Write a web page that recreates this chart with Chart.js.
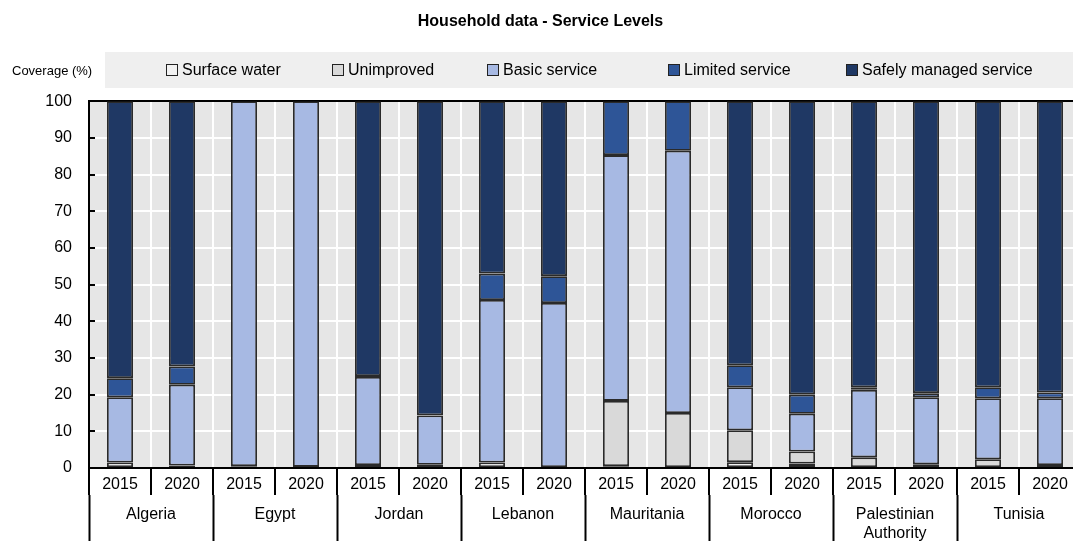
<!DOCTYPE html>
<html>
<head>
<meta charset="UTF-8" />
<script src="https://cdn.jsdelivr.net/npm/chart.js"></script>
<style>
  body {
    margin: 0;
    padding: 0;
    width: 1073px;
    height: 541px;
    overflow: hidden;
    background: #fff;
    font-family: 'Liberation Sans', Arial, sans-serif;
  }
  .wrap {
    position: relative;
    width: 1090px;
    height: 541px;
  }
  .ylabel {
    position: absolute;
    left: 12px;
    top: 63px;
    font-size: 13px;
    color: #000;
    white-space: nowrap;
  }
  .legend {
    position: absolute;
    left: 105px;
    top: 52px;
    width: 1000px;
    height: 36px;
    background: #efefef;
    font-size: 16px;
    color: #000;
  }
  .legend .item {
    position: absolute;
    top: 0;
    height: 36px;
    display: flex;
    align-items: center;
    white-space: nowrap;
  }
  .legend .box {
    width: 10px;
    height: 10px;
    border: 1px solid #222;
    margin-right: 4px;
  }
</style>
</head>
<body>
<div class="wrap">
  <canvas id="chart" width="1090" height="541"></canvas>
  <div class="ylabel">Coverage (%)</div>
  <div class="legend" id="legend"></div>
</div>
<script>
  // categories
  const years = ['2015', '2020', '2015', '2020', '2015', '2020', '2015', '2020',
                 '2015', '2020', '2015', '2020', '2015', '2020', '2015', '2020'];
  const countries = ['Algeria', 'Egypt', 'Jordan', 'Lebanon', 'Mauritania', 'Morocco',
                     ['Palestinian', 'Authority'], 'Tunisia'];

  // series values (% of households), one per bar
  const surfaceWater = [1.5, 0, 0, 0, 0.8, 0.9, 1.5, 0, 0.5, 0, 1.6, 1.2, 0, 1.0, 0, 0.8];
  const unimproved = [0, 0.7, 0.5, 0.3, 0, 0, 0, 0, 17.8, 15.0, 8.7, 3.3, 2.9, 0, 2.4, 0];
  const basicService = [17.8, 22.0, 99.5, 99.7, 24.0, 13.4, 44.3, 45.0, 67.0, 71.5, 11.7, 10.3, 18.4, 18.3, 16.6, 18.2];
  const limitedService = [5.2, 5.0, 0, 0, 0.3, 0.1, 7.2, 7.3, 14.7, 13.5, 6.0, 5.2, 0.7, 1.1, 3.0, 1.6];
  const safelyManaged = [75.5, 72.3, 0, 0, 74.9, 85.6, 47.0, 47.7, 0, 0, 72.0, 80.0, 78.0, 79.6, 78.0, 79.4];

  const yTicks = [0, 10, 20, 30, 40, 50, 60, 70, 80, 90, 100];

  const FONT = "'Liberation Sans', Arial, sans-serif";

  const series = [
    { label: 'Surface water', data: surfaceWater, color: '#f2f2f2' },
    { label: 'Unimproved', data: unimproved, color: '#d9d9d9' },
    { label: 'Basic service', data: basicService, color: '#a7b9e3' },
    { label: 'Limited service', data: limitedService, color: '#2e5597' },
    { label: 'Safely managed service', data: safelyManaged, color: '#1f3864' },
  ];

  // html legend (the grey strip across the top), item offsets inside the strip
  const legendX = [61, 227, 382, 563, 741];
  const legendEl = document.getElementById('legend');
  series.forEach((s, i) => {
    const it = document.createElement('div');
    it.className = 'item';
    it.style.left = legendX[i] + 'px';
    it.innerHTML = '<span class="box" style="background:' + s.color + '"></span><span>' + s.label + '</span>';
    legendEl.appendChild(it);
  });

  // grey plot background
  const plotBg = {
    id: 'plotBg',
    beforeDraw(chart) {
      const { ctx, chartArea: a } = chart;
      ctx.save();
      ctx.fillStyle = '#fff';
      ctx.fillRect(0, 0, chart.width, chart.height);
      ctx.fillStyle = '#e6e6e6';
      ctx.fillRect(a.left, a.top, a.right - a.left, a.bottom - a.top);
      ctx.restore();
    }
  };

  // white gridline with a short black tick at the axis end
  function yGridColor(c) {
    const a = c.chart.chartArea;
    if (!a) return '#fff';
    if (c.tick && c.tick.value === 100) return '#000';
    const g = c.chart.ctx.createLinearGradient(a.left, 0, a.right, 0);
    const f = 6 / (a.right - a.left);
    g.addColorStop(0, '#000');
    g.addColorStop(f, '#000');
    g.addColorStop(f, '#fff');
    g.addColorStop(1, '#fff');
    return g;
  }

  new Chart(document.getElementById('chart'), {
    type: 'bar',
    data: {
      labels: years,
      datasets: series.map(s => ({
        label: s.label,
        data: s.data.map(v => (v === 0 ? null : v)),
        backgroundColor: s.color,
        borderColor: '#2a2a2a',
        borderWidth: 1.8,
        borderSkipped: false,
        barPercentage: 0.42,
        categoryPercentage: 1,
      })),
    },
    options: {
      responsive: false,
      animation: false,
      layout: { padding: { left: 0, right: 9, top: 0, bottom: 0 } },
      plugins: {
        legend: { display: false },
        tooltip: { enabled: false },
        title: {
          display: true,
          text: 'Household data - Service Levels',
          color: '#000',
          font: { family: FONT, size: 16, weight: 'bold' },
          padding: { top: 12, bottom: 70 },
        },
      },
      scales: {
        x: {
          stacked: true,
          position: 'bottom',
          weight: 0,
          border: { display: true, color: '#000', width: 2 },
          grid: {
            offset: true,
            color: '#fff',
            lineWidth: 2,
            tickLength: 27,
            tickColor: '#000',
            tickWidth: 2,
          },
          ticks: {
            color: '#000',
            font: { family: FONT, size: 16 },
            padding: -20,
            autoSkip: false,
            maxRotation: 0,
          },
          afterFit(scale) { scale.height = 27; },
        },
        x2: {
          type: 'category',
          labels: countries,
          position: 'bottom',
          weight: 1,
          offset: true,
          border: { display: false },
          grid: {
            offset: true,
            drawOnChartArea: false,
            tickLength: 46,
            tickColor: '#000',
            tickWidth: 2,
          },
          ticks: {
            color: '#000',
            font: { family: FONT, size: 16 },
            padding: -36,
            autoSkip: false,
            maxRotation: 0,
          },
          afterFit(scale) { scale.height = 46; },
        },
        y: {
          stacked: true,
          min: 0,
          max: 100,
          border: { display: true, color: '#000', width: 2 },
          grid: {
            color: yGridColor,
            lineWidth: 2,
            drawTicks: false,
          },
          afterBuildTicks(scale) {
            scale.ticks = yTicks.map(v => ({ value: v }));
          },
          ticks: {
            color: '#000',
            font: { family: FONT, size: 16 },
            padding: 17,
          },
          afterFit(scale) { scale.width = 89; },
        },
      },
    },
    plugins: [plotBg],
  });
</script>
</body>
</html>
